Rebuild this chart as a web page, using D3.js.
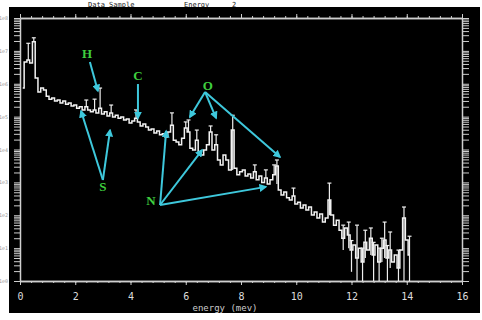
<!DOCTYPE html>
<html>
<head>
<meta charset="utf-8">
<script src="https://cdnjs.cloudflare.com/ajax/libs/d3/7.8.5/d3.min.js"></script>
<style>
  body { margin: 0; background: #fff; }
  svg { display: block; }
</style>
</head>
<body>
<div id="chart"></div>
<script>
// ---------------------------------------------------------------
//  energy spectrum, log counts per 0.1 MeV bin
// ---------------------------------------------------------------

var firstBin = 0.1
, binWidth = 0.1

// counts per bin, 0.1 .. 14.1 MeV
, counts = [
  7.4e5, 4.6e6, 5.3e6, 4.3e6, 1.9e7, 1.5e6, 5.6e5, 7.4e5, 6.4e5, 4.2e5,
  3.4e5, 3.7e5, 3.0e5, 3.2e5, 2.6e5, 3.0e5, 2.4e5, 2.6e5, 2.1e5, 2.25e5,
  1.8e5, 2.0e5, 1.6e5, 2.0e5, 1.6e5, 1.4e5, 1.6e5, 1.3e5, 1.8e5, 1.2e5,
  1.4e5, 1.04e5, 1.3e5, 9.7e4, 1.1e5, 9.0e4, 9.7e4, 7.9e4, 8.5e4, 6.4e4,
  7.4e4, 9.0e4, 6.9e4, 5.2e4, 6.0e4, 4.8e4, 3.9e4, 4.2e4, 3.2e4, 3.65e4,
  2.8e4, 3.0e4, 2.4e4, 3.4e4, 5.5e4, 1.9e4, 1.7e4, 1.4e4, 2.2e4, 4.5e4,
  3.4e4, 1.1e4, 9.6e3, 1.9e4, 8.4e3, 6.8e3, 9.6e3, 1.4e4, 3.4e4, 9.6e3,
  1.4e4, 4.8e3, 3.4e3, 6.8e3, 4.8e3, 2.4e3, 3.9e4, 2.7e3, 1.7e3, 2.1e3,
  2.4e3, 1.56e3, 1.8e3, 1.36e3, 2.1e3, 1.2e3, 1.56e3, 1.0e3, 1.36e3, 8.9e2,
  1.2e3, 1.7e3, 3.15e3, 5.9e2, 4.1e2, 5.1e2, 3.4e2, 2.9e2, 3.85e2, 2.2e2,
  2.5e2, 1.66e2, 2.05e2, 1.44e2, 1.78e2, 1.02e2, 1.25e2, 82, 1.09e2, 62,
  82, 2.9e2, 1.02e2, 50, 71, 35, 20, 41, 25, 8.7,
  12.4, 5.0, 10, 3.8, 15, 8.7, 20, 6.2, 12.4, 3.8,
  10, 17.6, 5.0, 8.7, 3.8, 6.2, 2.5, 8.7, 82, 17.6,
  6.2
]

// [energy, low end (null = bin value), high end]
, errorBars = [
  [0.3, null, 1.7e7], [0.5, null, 2.5e7], [2.4, null, 3.2e5], [2.7, null, 3.4e5],
  [2.9, null, 7.4e5], [3.3, null, 2.25e5], [4.2, null, 1.6e5], [5.5, null, 1.3e5],
  [6.0, null, 6.9e4], [6.1, null, 7.9e4], [6.4, null, 3.9e4], [6.9, null, 5.2e4],
  [7.1, null, 2.8e4], [7.7, 2.4e3, 1.1e5], [8.5, null, 3.4e3], [8.9, null, 2.4e3],
  [9.2, null, 3.4e3], [9.3, 8.9e2, 4.8e3], [9.9, null, 6.7e2], [11.2, 1.0e2, 9.5e2],
  [11.7, 8.7, 50], [11.9, 10, 62], [12.0, 1.9, 17], [12.2, 1, 50],
  [12.4, 1, 10], [12.5, 5, 35], [12.7, 6.2, 41], [12.8, 1, 15],
  [13.0, 1, 10], [13.1, 3.8, 20], [13.2, 5, 62], [13.3, 1, 12],
  [13.4, 2.5, 31], [13.7, 1, 8.7], [13.9, 1, 178], [14.1, 1, 23]
]

, xMajor = [0, 2, 4, 6, 8, 10, 12, 14, 16]
, yDecades = [0, 1, 2, 3, 4, 5, 6, 7, 8]

// element labels [text, energy, counts]
, elements = [
  ["H", 2.43, 8.6e6], ["C", 4.27, 1.85e6], ["O", 6.8, 9.1e5],
  ["S", 3.0, 7.3e2], ["N", 4.74, 2.9e2]
]

// arrows [fromE, fromCounts, toE, toCounts]
, arrows = [
  [2.53, 4.6e6, 2.82, 6.0e5],
  [4.27, 9.8e5, 4.27, 9.0e4],
  [3.0, 1.18e3, 2.21, 1.48e5],
  [3.0, 1.18e3, 3.26, 3.9e4],
  [6.7, 5.6e5, 6.15, 9.7e4],
  [6.7, 5.6e5, 7.1, 9.0e4],
  [6.7, 5.6e5, 9.41, 5.9e3],
  [5.07, 2.05e2, 5.29, 3.65e4],
  [5.07, 2.05e2, 6.59, 9.6e3],
  [5.07, 2.05e2, 8.9, 7.3e2]
];

var w = 482
, h = 320
, cyan = "#3ec8dc"
, green = "#3fcf3f"
, frame = "#cfcfcf"
, svg
, x
, y
, bins
, yTicks = []
, xMinor;

x = d3.scaleLinear().domain([0, 16]).range([20, 462]);
y = d3.scaleLog().domain([1, 1e8]).range([281, 18]);

bins = counts.map(function(c, i) {
  return { e: +(firstBin + i * binWidth).toFixed(2), c: c };
});

yDecades.forEach(function(k) {
  var m;
  for (m = 1; m <= 9; m++) {
    if (k < 8 || m === 1) { yTicks.push(m * Math.pow(10, k)); }
  }
});
xMinor = d3.range(0, 16.01, 0.4);

svg = d3.select("#chart").append("svg")
  .attr("width", w)
  .attr("height", h);

// heading strip above the plot
svg.append("g")
  .attr("font-family", "DejaVu Sans Mono, monospace")
  .attr("font-size", 7)
  .attr("fill", "#222")
  .selectAll("text")
  .data([["Data Sample", 88], ["Energy", 184], ["2", 232]])
  .enter().append("text")
  .attr("x", function(d) { return d[1]; })
  .attr("y", 6.5)
  .text(function(d) { return d[0]; });

svg.append("rect")
  .attr("x", 9).attr("y", 7)
  .attr("width", 471).attr("height", 306)
  .attr("fill", "#000");

// decade labels on the left strip
svg.append("g")
  .attr("font-family", "DejaVu Sans Mono, monospace")
  .attr("font-size", 5)
  .attr("fill", "#999")
  .attr("text-anchor", "end")
  .selectAll("text")
  .data(yDecades)
  .enter().append("text")
  .attr("x", 8)
  .attr("y", function(k) { return y(Math.pow(10, k)) + 2; })
  .text(function(k) { return "1e" + k; });

// ---- axes
function styleAxis(g) {
  g.selectAll("path.domain").attr("stroke", frame).attr("stroke-width", 1.5);
  g.selectAll(".tick line").attr("stroke", frame);
}

svg.append("g")
  .attr("transform", "translate(0,281)")
  .call(d3.axisBottom(x).tickValues(xMinor).tickSize(2).tickSizeOuter(0).tickFormat(""))
  .call(styleAxis);
svg.append("g")
  .attr("transform", "translate(0,281)")
  .call(d3.axisBottom(x).tickValues(xMajor).tickSize(4).tickSizeOuter(0).tickPadding(8))
  .call(styleAxis)
  .call(function(g) {
    g.selectAll("text")
      .attr("fill", "#ddd")
      .attr("font-family", "DejaVu Sans Mono, monospace")
      .attr("font-size", 10);
  });

svg.append("g")
  .attr("transform", "translate(0,18)")
  .call(d3.axisTop(x).tickValues(xMinor).tickSize(2).tickSizeOuter(0).tickFormat(""))
  .call(styleAxis);
svg.append("g")
  .attr("transform", "translate(0,18)")
  .call(d3.axisTop(x).tickValues(xMajor).tickSize(4).tickSizeOuter(0).tickFormat(""))
  .call(styleAxis);

svg.append("g")
  .attr("transform", "translate(20,0)")
  .call(d3.axisLeft(y).tickValues(yTicks).tickSize(6).tickSizeOuter(0).tickFormat(""))
  .call(styleAxis);
svg.append("g")
  .attr("transform", "translate(462,0)")
  .call(d3.axisRight(y).tickValues(yTicks).tickSize(7).tickSizeOuter(0).tickFormat(""))
  .call(styleAxis);

svg.append("text")
  .attr("x", 225)
  .attr("y", 311)
  .attr("text-anchor", "middle")
  .attr("font-family", "DejaVu Sans Mono, monospace")
  .attr("font-size", 9)
  .attr("fill", "#ccc")
  .text("energy (mev)");

// ---- spectrum
svg.append("path")
  .datum(bins)
  .attr("fill", "none")
  .attr("stroke", "#f2f2f2")
  .attr("stroke-width", 1.5)
  .attr("d", d3.line()
    .curve(d3.curveStep)
    .x(function(d) { return x(d.e); })
    .y(function(d) { return y(d.c); }));

var eb = svg.append("g")
  .attr("stroke", "#eee")
  .attr("stroke-width", 1.2)
  .selectAll("g")
  .data(errorBars)
  .enter().append("g");

function binValue(e) {
  return counts[Math.round((e - firstBin) / binWidth)];
}

eb.append("line")
  .attr("x1", function(d) { return x(d[0]); })
  .attr("x2", function(d) { return x(d[0]); })
  .attr("y1", function(d) { return y(d[1] === null ? binValue(d[0]) : d[1]); })
  .attr("y2", function(d) { return y(d[2]); });
eb.append("line")
  .attr("x1", function(d) { return x(d[0]) - 2; })
  .attr("x2", function(d) { return x(d[0]) + 2; })
  .attr("y1", function(d) { return y(d[2]); })
  .attr("y2", function(d) { return y(d[2]); });

// ---- annotations
svg.append("defs").append("marker")
  .attr("id", "head")
  .attr("viewBox", "0 0 10 10")
  .attr("refX", 8)
  .attr("refY", 5)
  .attr("markerWidth", 4)
  .attr("markerHeight", 4)
  .attr("orient", "auto")
  .append("path")
  .attr("d", "M0,0L10,5L0,10z")
  .attr("fill", cyan);

svg.append("g")
  .selectAll("line")
  .data(arrows)
  .enter().append("line")
  .attr("x1", function(d) { return x(d[0]); })
  .attr("y1", function(d) { return y(d[1]); })
  .attr("x2", function(d) { return x(d[2]); })
  .attr("y2", function(d) { return y(d[3]); })
  .attr("stroke", cyan)
  .attr("stroke-width", 2)
  .attr("marker-end", "url(#head)");

svg.append("g")
  .selectAll("text")
  .data(elements)
  .enter().append("text")
  .attr("x", function(d) { return x(d[1]); })
  .attr("y", function(d) { return y(d[2]); })
  .attr("dy", "0.35em")
  .attr("text-anchor", "middle")
  .attr("font-family", "Liberation Serif, serif")
  .attr("font-weight", "bold")
  .attr("font-size", 13)
  .attr("fill", green)
  .text(function(d) { return d[0]; });
</script>
</body>
</html>
